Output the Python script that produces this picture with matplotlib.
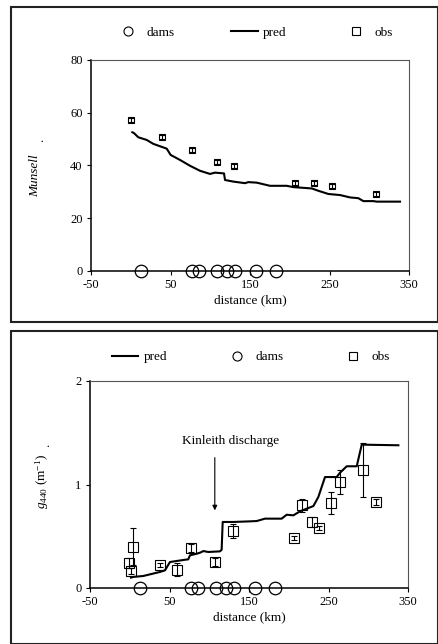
import matplotlib
matplotlib.use("Agg")
import matplotlib.pyplot as plt
from matplotlib.patches import Rectangle
from matplotlib.lines import Line2D

plt.rcParams["font.family"] = ["Liberation Serif", "DejaVu Serif"]
plt.rcParams["mathtext.fontset"] = "custom"
plt.rcParams["mathtext.rm"] = "Liberation Serif"
plt.rcParams["mathtext.it"] = "Liberation Serif:italic"
plt.rcParams["font.size"] = 9
plt.rcParams["axes.unicode_minus"] = False

# ---- data -------------------------------------------------------------
dam_km = [13, 77, 86, 108, 121, 131, 157, 183]

# Munsell colour
mun_obs_km = [0, 39, 77, 108, 130, 207, 230, 253, 309]
mun_obs = [57.3, 50.8, 45.9, 41.2, 39.7, 33.5, 33.3, 32.1, 29.3]
mun_obs_err = [0.8, 0.8, 0.8, 0.8, 0.8, 0.8, 0.8, 0.8, 0.8]
mun_pred_km = [2, 4, 9.5, 20, 28.4, 45.2, 50.2, 62, 74.5, 87.1, 99.7, 106,
               117.3, 118.6, 129, 143.7, 147.9, 158.4, 175.2, 196.2, 204.6,
               227.7, 236.1, 248.6, 263.2, 275.8, 286.3, 292.6, 305.2, 309.4,
               338.7]
mun_pred = [52.6, 52.3, 50.7, 49.7, 48.2, 46.4, 44.0, 42.1, 39.9, 38.0, 36.8,
            37.3, 37.0, 34.5, 33.9, 33.3, 33.7, 33.5, 32.3, 32.3, 31.8, 31.3,
            30.4, 29.2, 28.8, 27.9, 27.6, 26.5, 26.5, 26.3, 26.3]

# g440 absorption
g_obs_km = [-1, 1.6, 4.5, 38, 60, 77, 107, 129.5, 206.6, 216.7, 229.6, 238,
            252.7, 264.5, 293.8, 309.3]
g_obs = [0.24, 0.165, 0.40, 0.225, 0.177, 0.387, 0.251, 0.551, 0.483, 0.799,
         0.638, 0.58, 0.821, 1.024, 1.143, 0.828]
g_obs_err = [0.05, 0.03, 0.175, 0.02, 0.065, 0.04, 0.04, 0.07, 0.02, 0.06,
             0.05, 0.02, 0.11, 0.12, 0.26, 0.03]
g_pred_km = [1.6, 4.5, 17, 25.5, 38, 44.3, 50.6, 59, 69.5, 73.6, 75.8, 84.2,
             88.4, 92.6, 98.8, 113.5, 115.6, 116.9, 130.3, 151.3, 159.7, 170.1,
             191.1, 197.4, 205.8, 214.2, 231, 237.2, 245.6, 260.3, 264.5,
             272.9, 285.5, 291.8, 337.9]
g_pred = [0.10, 0.107, 0.116, 0.132, 0.155, 0.171, 0.251, 0.261, 0.273, 0.277,
          0.316, 0.331, 0.341, 0.357, 0.348, 0.354, 0.370, 0.638, 0.638,
          0.644, 0.647, 0.670, 0.670, 0.708, 0.702, 0.741, 0.792, 0.879, 1.072,
          1.072, 1.114, 1.176, 1.176, 1.385, 1.379]

x_ticks = [-50, 50, 150, 250, 350]

# ---- figure -------------------------------------------------------------
W, H = 439, 644
fig = plt.figure(figsize=(W / 100, H / 100), dpi=100)


def px_rect(x0, y0, x1, y1):
    """Axes rectangle from pixel edges (origin top-left)."""
    return [x0 / W, 1 - y1 / H, (x1 - x0) / W, (y1 - y0) / H]


# panel frames
for (x0, y0, x1, y1) in [(11, 6.5, 438, 321.5), (11, 331, 438, 643.5)]:
    fig.add_artist(Rectangle((x0 / W, 1 - y1 / H), (x1 - x0) / W, (y1 - y0) / H,
                             transform=fig.transFigure, fill=False,
                             edgecolor="#222222", linewidth=1.5))

ax1 = fig.add_axes(px_rect(91, 60, 409, 271))
ax2 = fig.add_axes(px_rect(90, 381, 408, 588))

line_kw = dict(color="black", linewidth=1.5)
obs_kw = dict(fmt="s", mfc="none", mec="black", mew=0.8, ecolor="black",
              elinewidth=0.8, capsize=2, capthick=0.8)
dam_kw = dict(linestyle="none", marker="o", mfc="none", mec="black",
              mew=0.9, clip_on=False, zorder=5)


def style(ax, ymax, yticks):
    ax.set_xlim(-50, 350)
    ax.set_ylim(0, ymax)
    ax.set_xticks(x_ticks)
    ax.set_yticks(yticks)
    ax.tick_params(direction="out", length=3, width=0.8, labelsize=9, pad=3)
    for side in ["top", "right"]:
        ax.spines[side].set_linewidth(0.8)
        ax.spines[side].set_color("#555555")
    for side in ["left", "bottom"]:
        ax.spines[side].set_linewidth(1.1)
    ax.set_xlabel("distance (km)", fontsize=9.5, labelpad=2)


# ---- top panel: Munsell -------------------------------------------------
ax1.plot(mun_pred_km, mun_pred, **line_kw)
ax1.errorbar(mun_obs_km, mun_obs, yerr=mun_obs_err, markersize=5, **obs_kw)
ax1.plot(dam_km, [0] * len(dam_km), markersize=9, **dam_kw)
style(ax1, 80, [0, 20, 40, 60, 80])
fig.text(35 / W, 1 - 176 / H, "Munsell", rotation=90, style="italic",
         fontsize=9.5, ha="center", va="center")
fig.text(40 / W, 1 - 140 / H, ".", rotation=90, fontsize=9,
         ha="center", va="center")

h_dam = Line2D([], [], linestyle="none", marker="o", mfc="none", mec="black",
               markersize=6.5, mew=0.8)
h_pred = Line2D([], [], **line_kw)
h_obs = Line2D([], [], linestyle="none", marker="s", mfc="none", mec="black",
               markersize=6, mew=0.8)
leg_kw = dict(ncol=3, frameon=False, handlelength=2.0, handletextpad=0.4,
              columnspacing=4.3, fontsize=9.5, loc="center",
              borderaxespad=0, borderpad=0)
fig.legend([h_dam, h_pred, h_obs], ["dams", "pred", "obs"],
           bbox_to_anchor=(254 / W, 1 - 33 / H), **leg_kw)

# ---- bottom panel: g440 -------------------------------------------------
ax2.plot(g_pred_km, g_pred, **line_kw)
ax2.errorbar(g_obs_km, g_obs, yerr=g_obs_err, markersize=6.5, **obs_kw)
ax2.plot(dam_km, [0] * len(dam_km), markersize=9, **dam_kw)
style(ax2, 2, [0, 1, 2])
ax2.annotate("", xy=(107, 0.75), xytext=(107, 1.26),
             arrowprops=dict(arrowstyle="-|>", color="black", lw=0.8,
                             mutation_scale=7, shrinkA=0, shrinkB=0))
ax2.text(127, 1.42, "Kinleith discharge", ha="center", va="center", fontsize=9.5)
fig.text(42 / W, 1 - 481 / H, r"$g_{440}$ (m$^{\mathregular{-1}}$)", rotation=90,
         fontsize=9.5, ha="center", va="center")
fig.text(46 / W, 1 - 445 / H, ".", rotation=90, fontsize=9,
         ha="center", va="center")
fig.legend([h_pred, h_dam, h_obs], ["pred", "dams", "obs"],
           bbox_to_anchor=(251 / W, 1 - 357 / H), **leg_kw)

fig.savefig("out.png", dpi=100)
